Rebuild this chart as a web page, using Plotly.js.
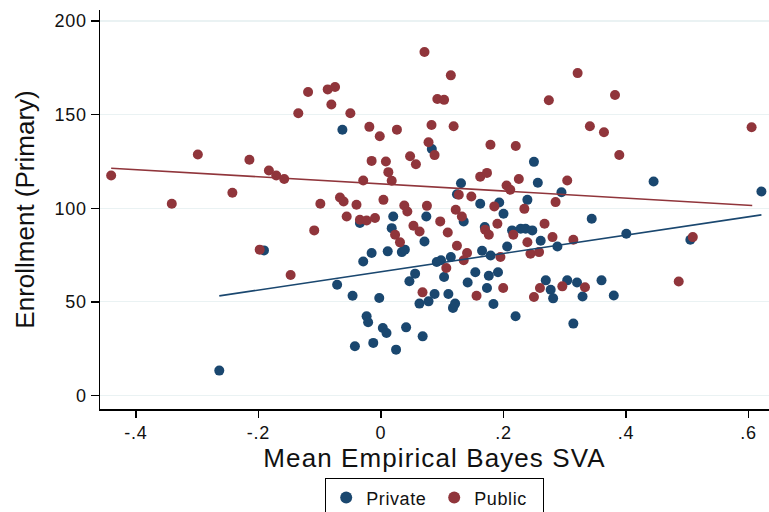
<!DOCTYPE html>
<html>
<head>
<meta charset="utf-8">
<script src="https://cdn.plot.ly/plotly-3.0.1.min.js"></script>
<style>
  html, body { margin: 0; padding: 0; background: #ffffff; }
  #chart { width: 769px; height: 512px; }
  /* slightly wider lettering for axis text */
  #chart .xtitle { letter-spacing: 1.1px; }
  #chart .xtick text, #chart .ytick text { letter-spacing: 0.8px; }
  #chart .legendtext { letter-spacing: 0.6px; }
</style>
</head>
<body>
<div id="chart"></div>
<script>
// School-level enrollment against mean empirical Bayes SVA, by school type

// Private schools
const privateSVA = [
  -0.063, 0.083, 0.2497, 0.256, 0.1306, 0.124, 0.162, 0.193, 0.239, 0.2946,
  0.445, 0.621, -0.191, -0.264, -0.0344, 0.020, 0.074, 0.0175, 0.071, -0.0153,
  -0.029, 0.011, 0.034, 0.039, 0.200, 0.135, 0.1694, 0.214, 0.228, 0.236,
  0.247, 0.2607, 0.206, 0.165, 0.179, 0.114, 0.091, 0.098, 0.103, 0.0557,
  0.0464, 0.154, 0.176, 0.191, 0.1415, 0.173, -0.0716, -0.0464, -0.0028, 0.0628,
  0.0776, 0.0875, 0.110, 0.1175, 0.121, 0.1836, 0.2197, -0.0235, -0.021, 0.003,
  0.009, 0.041, 0.068, -0.0426, -0.0126, 0.0246, 0.269, 0.277, 0.281, 0.344,
  0.288, 0.4005, 0.505, 0.304, 0.32, 0.329, 0.360, 0.380, 0.314
];
const privateEnroll = [
  141.9, 131.7, 124.8, 113.6, 113.4, 107.5, 102.4, 103.1, 104.5, 108.6,
  114.3, 109.0, 77.5, 13.3, 92.1, 95.6, 95.6, 89.4, 82.3, 76.1,
  71.6, 77.0, 76.6, 77.9, 97.1, 93.0, 90.0, 88.2, 89.1, 89.1,
  88.2, 82.7, 79.6, 77.3, 74.8, 74.0, 71.3, 72.2, 63.3, 65.1,
  61.0, 65.8, 64.0, 65.8, 60.4, 57.4, 59.2, 53.3, 52.1, 49.1,
  50.3, 54.2, 54.2, 46.8, 49.1, 48.9, 42.3, 42.3, 39.1, 36.1,
  33.4, 36.4, 31.6, 26.3, 28.1, 24.5, 61.5, 56.5, 51.9, 94.4,
  79.6, 86.4, 83.2, 61.5, 60.4, 52.9, 61.5, 53.4, 38.4
];

// Public schools
const publicSVA = [
  -0.4405, -0.3415, -0.299, -0.2426, -0.2148, -0.183, -0.171, -0.158, -0.135, -0.119,
  -0.087, -0.075, -0.081, -0.050, -0.099, -0.019, -0.002, 0.026, 0.071, 0.114,
  0.092, 0.103, 0.0825, 0.1186, 0.274, 0.0776, 0.0875, -0.0153, 0.008, 0.0475,
  0.057, 0.012, 0.0175, -0.029, 0.1787, 0.220, 0.225, 0.162, 0.173, 0.205,
  0.211, 0.127, 0.1475, 0.185, 0.234, -0.067, -0.061, -0.040, 0.004, 0.038,
  0.075, 0.122, 0.321, 0.382, 0.341, 0.364, 0.389, 0.605, 0.304, 0.285,
  -0.109, -0.198, -0.1475, -0.056, -0.0344, -0.0234, -0.0098, 0.043, 0.0967, 0.132,
  0.109, 0.053, 0.063, 0.023, 0.031, 0.124, 0.1405, 0.135, 0.170, 0.176,
  0.190, 0.216, 0.239, 0.244, 0.258, 0.267, 0.195, 0.1066, 0.0678, 0.156,
  0.1995, 0.2497, 0.2595, 0.28, 0.314, 0.509, 0.296, 0.333, 0.486
];
const publicEnroll = [
  117.5, 102.4, 128.7, 108.3, 125.9, 120.2, 117.5, 115.6, 150.8, 162.1,
  163.5, 164.8, 155.4, 150.8, 102.4, 143.5, 138.5, 142.0, 183.5, 171.0,
  158.4, 157.9, 144.5, 143.8, 157.7, 135.3, 128.4, 125.3, 125.0, 127.8,
  123.5, 119.3, 114.7, 114.8, 133.9, 133.3, 115.6, 116.9, 118.9, 112.2,
  109.9, 107.2, 106.3, 101.0, 99.7, 105.8, 103.6, 101.9, 104.5, 101.5,
  101.3, 99.2, 172.2, 160.5, 143.8, 140.6, 128.5, 143.3, 114.8, 103.3,
  88.2, 77.9, 64.4, 95.6, 93.9, 93.5, 94.8, 98.3, 93.0, 95.6,
  87.1, 90.7, 87.6, 85.9, 81.8, 80.0, 76.1, 72.2, 88.5, 85.9,
  91.7, 85.9, 81.9, 75.7, 76.6, 91.7, 74.0, 68.1, 55.1, 53.3,
  57.4, 52.6, 57.4, 84.6, 83.2, 84.6, 58.3, 57.8, 60.9
];

// Linear fit lines (endpoints span each group's SVA range)
const privateFitSVA = [-0.264, 0.621];
const privateFitEnroll = [53.2, 96.5];
const publicFitSVA = [-0.4405, 0.606];
const publicFitEnroll = [121.4, 101.5];

// Axis ticks
const xTickVals = [-0.4, -0.2, 0, 0.2, 0.4, 0.6];
const xTickText = ['-.4', '-.2', '0', '.2', '.4', '.6'];
const yTickVals = [0, 50, 100, 150, 200];
const yTickText = ['0', '50', '100', '150', '200'];

const NAVY = '#1a476f';
const MAROON = '#90353b';
const FONT = '"Liberation Sans", Arial, Helvetica, sans-serif';

const traces = [
  {
    type: 'scatter', mode: 'markers', name: 'Private',
    x: privateSVA, y: privateEnroll,
    marker: { color: NAVY, size: 10 }
  },
  {
    type: 'scatter', mode: 'markers', name: 'Public',
    x: publicSVA, y: publicEnroll,
    marker: { color: MAROON, size: 10 }
  },
  {
    type: 'scatter', mode: 'lines', showlegend: false,
    x: privateFitSVA, y: privateFitEnroll,
    line: { color: NAVY, width: 1.6 }
  },
  {
    type: 'scatter', mode: 'lines', showlegend: false,
    x: publicFitSVA, y: publicFitEnroll,
    line: { color: MAROON, width: 1.6 }
  }
];

const layout = {
  width: 769, height: 512,
  margin: { l: 100, r: 0, t: 10, b: 103 },
  paper_bgcolor: '#ffffff', plot_bgcolor: '#ffffff',
  font: { family: FONT, color: '#111111', size: 18 },
  showlegend: true,
  legend: {
    orientation: 'h',
    x: 0.5, xanchor: 'center',
    yref: 'container', y: 0.066, yanchor: 'top',
    bordercolor: '#000000', borderwidth: 1.2, bgcolor: '#ffffff',
    font: { family: FONT, size: 18, color: '#111111' },
    entrywidth: 63, entrywidthmode: 'pixels',
    itemsizing: 'constant'
  },
  xaxis: {
    range: [-0.4587, 0.6334],
    tickvals: xTickVals, ticktext: xTickText,
    ticks: 'outside', ticklen: 7, tickwidth: 1.5, tickcolor: '#000000',
    showline: true, linecolor: '#000000', linewidth: 1.5,
    showgrid: false, zeroline: false,
    tickfont: { family: FONT, size: 18, color: '#111111' },
    title: { text: 'Mean Empirical Bayes SVA', font: { family: FONT, size: 26, color: '#111111' }, standoff: 0 },
    automargin: false
  },
  yaxis: {
    range: [-7.2, 205.9],
    tickvals: yTickVals, ticktext: yTickText,
    ticks: 'outside', ticklen: 8, tickwidth: 1.5, tickcolor: '#000000',
    showline: true, linecolor: '#000000', linewidth: 1.5,
    showgrid: true, gridcolor: '#eaf2f3', gridwidth: 1.2,
    zeroline: false,
    tickfont: { family: FONT, size: 18, color: '#111111' },
    title: { text: 'Enrollment (Primary)', font: { family: FONT, size: 26, color: '#111111' }, standoff: 15 },
    automargin: false
  }
};

Plotly.newPlot('chart', traces, layout, { staticPlot: true, displayModeBar: false });
</script>
</body>
</html>
